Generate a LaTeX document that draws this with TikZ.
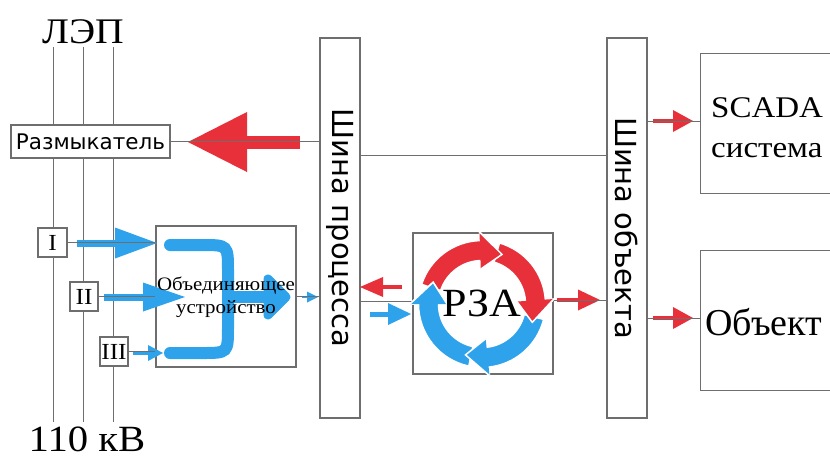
\documentclass[tikz,border=0pt]{standalone}
\usepackage{fontspec}
\setmainfont{Liberation Serif}[FakeStretch=1.1]
\newfontfamily\sansf{DejaVu Sans}
\newfontfamily\serifn{Liberation Serif}
\usetikzlibrary{arrows.meta,calc}
\definecolor{rzred}{HTML}{E8303A}
\definecolor{rzblue}{HTML}{2EA3EC}
\definecolor{lngray}{HTML}{6E6E6E}
\tikzset{
  box/.style={draw=lngray, line width=1.1pt, fill=white, inner sep=0pt},
  wire/.style={draw=lngray, line width=1pt},
  colarrow/.style n args={4}{draw=#1, line width=#2, -{Triangle[length=#3, width=#4, line width=0pt]}},
  mergeband/.style={draw=rzblue, line width=12pt, line cap=round},
  plain/.style={inner sep=0pt},
  ringsep/.style={draw=white, line width=1.5pt},
}
% ring arrow: colour, tail angle, head-base angle, tip angle
\newcommand\ringarrow[4]{%
  \filldraw[fill=#1, ringsep]
    ($(rc)+(#2:63.5pt)$) arc[start angle=#2, end angle=#3, radius=63.5pt]
    -- ($(rc)+(#3:72pt)$) -- ($(rc)+(#4:53.5pt)$) -- ($(rc)+(#3:35pt)$)
    -- ($(rc)+(#3:43.5pt)$) arc[start angle=#3, end angle=#2, radius=43.5pt] -- cycle;}
\newcommand\ringhead[3]{%
  \fill[#1] ($(rc)+(#2:72pt)$) -- ($(rc)+(#3:53.5pt)$) -- ($(rc)+(#2:35pt)$) -- cycle;
  \draw[ringsep] ($(rc)+(#2:72pt)$) -- ($(rc)+(#3:53.5pt)$) -- ($(rc)+(#2:35pt)$);}
\begin{document}
\begin{tikzpicture}[x=1pt,y=-1pt]
\useasboundingbox (0,0) rectangle (830,459);
\fill[white] (0,0) rectangle (830,459);

% phase lines
\foreach \x/\n in {53/1,83/2,113/3} {
  \coordinate (t\n) at (\x,47);
  \coordinate (b\n) at (\x,422);
  \draw[wire] (t\n) -- (b\n);
}
\node[plain, anchor=base, font=\fontsize{36}{40}\selectfont] (lep) at (83,43) {ЛЭП};
\node[plain, anchor=base, font=\fontsize{37}{40}\selectfont] (kv) at (87,451) {110 кВ};

% boxes
\node[box, minimum width=159pt, minimum height=33pt, font=\sansf\fontsize{21.5}{24}\selectfont] (razm) at (90.5,141.5) {Размыкатель};
\node[box, minimum width=40pt, minimum height=380pt] (pb) at (340,228) {};
\node[box, minimum width=40pt, minimum height=380pt] (ob) at (627,228) {};
\node[box, minimum width=170pt, minimum height=140pt, anchor=north west] (scada) at (700,53) {};
\node[box, minimum width=170pt, minimum height=140pt, anchor=north west] (obj) at (700,250) {};
\node[box, minimum width=29pt, minimum height=29pt, font=\fontsize{23}{24}\selectfont] (i1) at (52.5,242.5) {I};
\node[box, minimum width=28pt, minimum height=29pt, font=\fontsize{23}{24}\selectfont] (i2) at (84,296.5) {II};
\node[box, minimum width=28pt, minimum height=29pt, font=\fontsize{23}{24}\selectfont] (i3) at (114,351.5) {III};
\node[box, minimum width=140pt, minimum height=141pt] (mu) at (226,296.5) {};
\node[box, minimum width=140pt, minimum height=141pt] (rza) at (483,303.5) {};

% coloured arrows
\coordinate (a1s) at (300,142); \coordinate (a1e) at (188,142);
\draw[colarrow={rzred}{13pt}{59pt}{60pt}] (a1s) -- (a1e);
\coordinate (b1s) at (77,243); \coordinate (b1e) at (157,243);
\draw[colarrow={rzblue}{7pt}{42pt}{31pt}] (b1s) -- (b1e);
\coordinate (b2s) at (104,297); \coordinate (b2e) at (185,297);
\draw[colarrow={rzblue}{7pt}{42pt}{29pt}] (b2s) -- (b2e);
\coordinate (b3s) at (133,353); \coordinate (b3e) at (163,353);
\draw[colarrow={rzblue}{3pt}{15pt}{16pt}] (b3s) -- (b3e);
\coordinate (b4s) at (302,297); \coordinate (b4e) at (318,297);
\draw[colarrow={rzblue}{2.5pt}{11pt}{11pt}] (b4s) -- (b4e);
\coordinate (r2s) at (402,287); \coordinate (r2e) at (360,287);
\draw[colarrow={rzred}{4.5pt}{23pt}{20pt}] (r2s) -- (r2e);
\coordinate (b5s) at (370,314); \coordinate (b5e) at (411,314);
\draw[colarrow={rzblue}{5pt}{23pt}{22pt}] (b5s) -- (b5e);
\coordinate (r3s) at (557,300); \coordinate (r3e) at (600,300);
\draw[colarrow={rzred}{4pt}{22pt}{21pt}] (r3s) -- (r3e);
\coordinate (r4s) at (653,121); \coordinate (r4e) at (693,121);
\draw[colarrow={rzred}{4pt}{20pt}{22pt}] (r4s) -- (r4e);
\coordinate (r5s) at (653,318); \coordinate (r5e) at (693,318);
\draw[colarrow={rzred}{4pt}{20pt}{22pt}] (r5s) -- (r5e);

% wires
\draw[wire] (razm.east) -- (razm.east -| pb.west);
\draw[wire] (pb.east |- 0,155) -- (ob.west |- 0,155);
\draw[wire] (i1.east) -- (i1.east -| mu.west);
\draw[wire] (i2.east) -- (i2.east -| mu.west);
\draw[wire] (i3.east) -- (i3.east -| mu.west);
\draw[wire] (mu.east) -- (mu.east -| pb.west);
\draw[wire] (pb.east |- 0,301) -- (rza.west |- 0,301);
\draw[wire] (rza.east |- 0,300) -- (ob.west |- 0,300);
\draw[wire] (ob.east |- 0,121) -- (scada.west |- 0,121);
\draw[wire] (ob.east |- 0,318) -- (obj.west |- 0,318);

% merging unit icon
\draw[mergeband] (170,245) -- (202,245) .. controls (228,245) .. (228,271) -- (228,327) .. controls (228,353) .. (202,353) -- (170,353);
\draw[mergeband, line cap=butt] (226,297) -- (275,297);
\filldraw[draw=rzblue, fill=rzblue, line width=9pt, line join=round] (268,279) -- (286,297) -- (268,315) -- cycle;
\node[plain, align=center, font=\fontsize{19}{23}\selectfont] (mut) at (226,297) {Объединяющее\\устройство};

% RZA ring
\coordinate (rc) at (482,304);
\ringarrow{rzred}{162}{92}{68}
\ringarrow{rzred}{74}{4}{-20}
\ringarrow{rzblue}{-14}{-84}{-108}
\ringarrow{rzblue}{-102}{-180}{-204}
\ringhead{rzred}{92}{68}
\ringhead{rzred}{4}{-20}
\ringhead{rzblue}{-84}{-108}
\ringhead{rzblue}{-180}{-204}
\node[plain, font=\fontsize{40}{44}\selectfont] (rzat) at (482,303) {РЗА};

% texts
\node[plain, rotate=-90, font=\sansf\fontsize{29}{32}\selectfont] (pbt) at (pb) {Шина процесса};
\node[plain, rotate=-90, font=\sansf\fontsize{29}{32}\selectfont] (obt) at (ob) {Шина объекта};
\node[plain, anchor=base west, font=\fontsize{30}{34}\selectfont] (scadat) at (711,117) {SCADA};
\node[plain, anchor=base west, font=\fontsize{30}{34}\selectfont] (sist) at (711,157) {система};
\node[plain, anchor=base west, font=\serifn\fontsize{38}{40}\selectfont] (objt) at (705,335) {Объект};
\end{tikzpicture}
\end{document}
